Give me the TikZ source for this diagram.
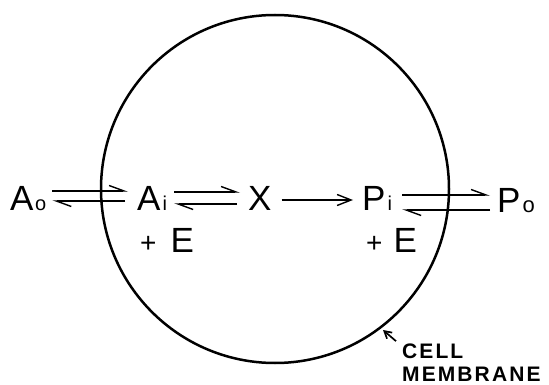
\documentclass[tikz,border=0pt]{standalone}
\usepackage{fontspec}
\setmainfont{Liberation Sans}
\newfontfamily\lblfont[LetterSpace=10]{Liberation Sans}
\usetikzlibrary{arrows.meta}
\newcommand{\bigf}{\fontsize{35}{38}\selectfont}
\newcommand{\subf}{\fontsize{20}{21}\selectfont}
\tikzset{
  chem/.style={inner sep=0pt, anchor=base west, font=\bigf},
  harp/.style={line width=1.4pt, -{Straight Barb[left, length=15pt, width=11pt, line width=1.4pt]}},
  fwd/.style={line width=1.4pt, -{Straight Barb[length=14pt, width=11pt, line width=1.4pt]}},
  membrane/.style={line width=2.5pt},
  lbl/.style={inner sep=0pt, anchor=base west, font=\lblfont\bfseries\fontsize{21}{22}\selectfont},
}
\begin{document}
\begin{tikzpicture}[x=1pt,y=-1pt]
\useasboundingbox (0,0) rectangle (549,385);
\fill[white] (0,0) rectangle (549,385);
% membrane
\draw[membrane] (275,189) circle[radius=174];
% species
\node[chem] (ao) at (10,210) {A\kern1.5pt{\subf o}};
\node[chem] (ai) at (137,210) {A\kern2pt{\subf i}};
\node[chem] (x)  at (248,210) {X};
\node[chem] (pi) at (362,211) {P\kern2pt{\subf i}};
\node[chem] (po) at (497,212) {P\kern2pt{\fontsize{22}{24}\selectfont o}};
\node[chem] (e1) at (140,252) {{\fontsize{28}{30}\selectfont +}\hspace{14pt}E};
\node[chem] (e2) at (366,252) {{\fontsize{28}{30}\selectfont +}\hspace{11pt}E};
% equilibria
\draw[harp] ([xshift=6pt]ao.east |- 0,191) -- ([xshift=-9pt]ai.west |- 0,191);
\draw[harp] ([xshift=-12pt]ai.west |- 0,201) -- ([xshift=6pt]ao.east |- 0,201);
\draw[harp] ([xshift=7pt]ai.east |- 0,192) -- ([xshift=-8pt]x.west |- 0,192);
\draw[harp] ([xshift=-11pt]x.west |- 0,204) -- ([xshift=7pt]ai.east |- 0,204);
\draw[fwd]  ([xshift=10pt]x.east |- 0,200) -- ([xshift=-9pt]pi.west |- 0,200);
\draw[harp] ([xshift=10pt]pi.east |- 0,195) -- ([xshift=-7pt]po.west |- 0,195);
\draw[harp] ([xshift=-7pt]po.west |- 0,210) -- ([xshift=10pt]pi.east |- 0,210);
% label
\node[lbl] (cell) at (402,358) {CELL};
\node[lbl] (memb) at (402,381) {MEMBRANE};
\coordinate (mem) at (383,330);
\draw[line width=1.7pt, -{Straight Barb[length=7pt, width=8pt, line width=1.7pt]}] ([xshift=-6pt,yshift=2pt]cell.north west) -- (mem);
\end{tikzpicture}
\end{document}
